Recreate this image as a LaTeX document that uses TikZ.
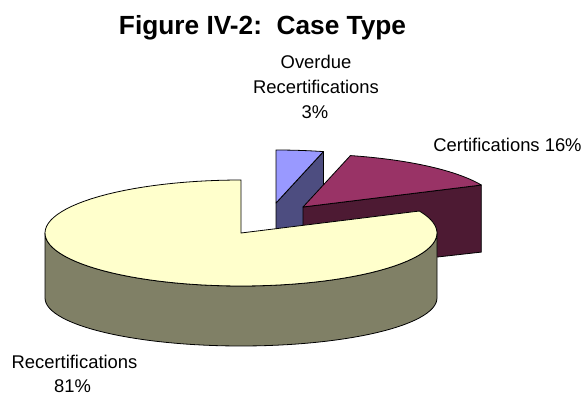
\documentclass[tikz,border=0pt]{standalone}
\usepackage{fontspec}
\setmainfont{Liberation Sans}
\usepackage{tikz}

\definecolor{recTop}{RGB}{255,255,204}
\definecolor{recSide}{RGB}{128,128,102}
\definecolor{certTop}{RGB}{153,51,102}
\definecolor{certSide}{RGB}{77,26,51}
\definecolor{ovdTop}{RGB}{153,153,255}
\definecolor{ovdSide}{RGB}{77,77,128}

\begin{document}
\begin{tikzpicture}[x=0.75pt,y=-0.75pt,
  face/.style={draw=black,line width=0.6pt,line join=round},
  lbl/.style={font=\fontsize{13.8}{16}\selectfont,inner sep=0pt,anchor=base},
  ttl/.style={font=\fontsize{19.7}{23}\selectfont\bfseries,inner sep=0pt,anchor=base}]
\useasboundingbox (0,0) rectangle (586,394);
\def\rx{196} \def\ry{53} \def\ryb{48} \def\dep{65}

% overdue slice, 3%
\def\cx{276} \def\cy{203}
\draw[face,fill=ovdSide] (\cx,\cy) -- ({\cx+\rx*sin(14)},{\cy-\ry*cos(14)})
  -- ({\cx+\rx*sin(14)},{\cy+\dep-\ryb*cos(14)}) -- (\cx,\cy+\dep) -- cycle;
\draw[face,fill=ovdTop] (\cx,\cy)
  -- plot[domain=0:14,samples=10] ({\cx+\rx*sin(\x)},{\cy-\ry*cos(\x)}) -- cycle;

% certifications slice, 16%
\def\cx{303} \def\cy{207}
\draw[face,fill=certSide] (\cx,\cy) -- ({\cx+\rx*sin(65.5)},{\cy-\ry*cos(65.5)})
  -- ({\cx+\rx*sin(65.5)},{\cy+\dep-\ryb*cos(65.5)}) -- (\cx,\cy+\dep) -- cycle;
\draw[face,fill=certTop] (\cx,\cy)
  -- plot[domain=14:65.5,samples=30] ({\cx+\rx*sin(\x)},{\cy-\ry*cos(\x)}) -- cycle;

% recertifications, 81%
\def\cx{241} \def\cy{233}
\draw[face,fill=recSide]
  plot[domain=90:270,samples=60] ({\cx+\rx*sin(\x)},{\cy-\ry*cos(\x)})
  -- plot[domain=270:90,samples=60] ({\cx+\rx*sin(\x)},{\cy+\dep-\ryb*cos(\x)}) -- cycle;
\draw[face,fill=recTop] (\cx,\cy)
  -- plot[domain=65.5:360,samples=90] ({\cx+\rx*sin(\x)},{\cy-\ry*cos(\x)}) -- cycle;

% texts
\node[ttl] (title) at (262.5,34) {Figure IV-2:\ \ Case Type};
\node[lbl] (ovdA) at (316,68) {Overdue};
\node[lbl] (ovdB) at (316,93) {Recertifications};
\node[lbl] (ovdC) at (315,118) {3\%};
\node[lbl] (cert) at (507.5,151) {Certifications 16\%};
\node[lbl] (recA) at (74.5,368) {Recertifications};
\node[lbl] (recB) at (72.5,392) {81\%};

\end{tikzpicture}
\end{document}
